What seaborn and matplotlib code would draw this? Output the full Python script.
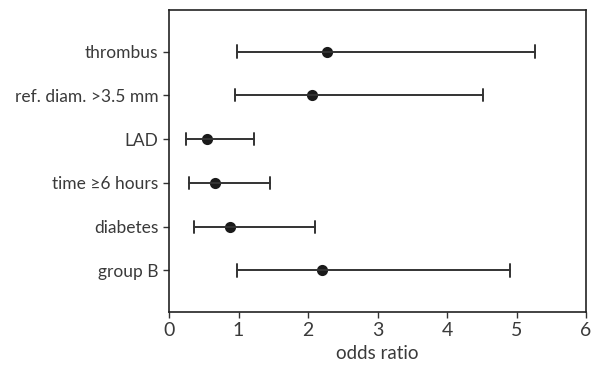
import matplotlib
matplotlib.use("Agg")
import matplotlib.pyplot as plt
import seaborn as sns
import pandas as pd

categories = ["thrombus", "ref. diam. >3.5 mm", "LAD", "time \u22656 hours", "diabetes", "group B"]
odds_ratio = [2.28, 2.06, 0.55, 0.66, 0.88, 2.20]
ci_low = [0.98, 0.95, 0.24, 0.29, 0.36, 0.98]
ci_high = [5.26, 4.52, 1.22, 1.45, 2.10, 4.90]
x_ticks = [0, 1, 2, 3, 4, 5, 6]

rows = []
for c, lo, p, hi in zip(categories, ci_low, odds_ratio, ci_high):
    for v in (lo, p, hi):
        rows.append({"cat": c, "value": v})
df = pd.DataFrame(rows)

sns.set_theme(style="white")
plt.rcParams["font.family"] = ["Lato", "DejaVu Sans"]

fig = plt.figure(figsize=(5.98, 3.70), dpi=100)
ax = fig.add_axes([169/598, 1 - 312/370, (586-169)/598, (312-10)/370])

sns.pointplot(data=df, x="value", y="cat", order=categories,
              estimator="median", errorbar=lambda v: (v.min(), v.max()),
              capsize=0.28, linestyle="none", color="#1a1a1a",
              markersize=6, err_kws={"linewidth": 1.4, "color": "#333333"},
              ax=ax)

txt = "#3a3a3a"
ax.set_xlim(0, 6)
ax.set_ylim(5.95, -0.95)
ax.set_xticks(x_ticks)
ax.set_xticklabels([str(t) for t in x_ticks], fontsize=14, color=txt)
ax.tick_params(axis="y", labelsize=12.5, labelcolor=txt, length=4, width=1, color="#333333", left=True)
ax.tick_params(axis="x", length=4, width=1, color="#333333", bottom=True)
ax.set_ylabel("")
ax.set_xlabel("odds ratio", fontsize=13.5, color=txt, labelpad=4)
for s in ax.spines.values():
    s.set_color("#222222")
    s.set_linewidth(1.2)

fig.savefig("out.png", dpi=100)
